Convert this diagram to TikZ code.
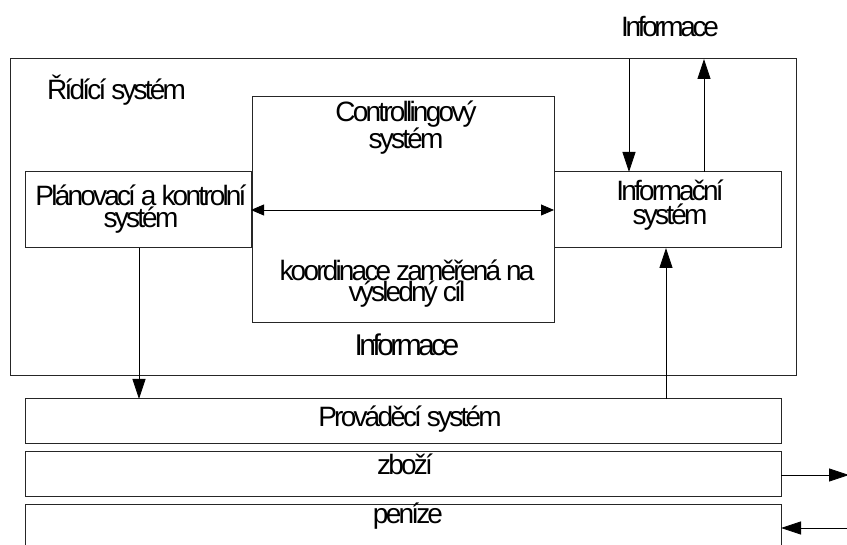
\documentclass[tikz,border=0pt]{standalone}
\usepackage{fontspec}
\setmainfont{Liberation Sans}[LetterSpace=-10]
\usetikzlibrary{arrows.meta}
\begin{document}
\begin{tikzpicture}[x=1pt,y=-1pt,
  box/.style={draw=black!85, line width=1pt, inner sep=0pt, outer sep=0pt, anchor=north west},
  lbl/.style={font=\fontsize{28}{22}\selectfont, inner sep=0pt, align=center, anchor=base},
  big/.style={-{Triangle[length=20pt,width=13pt]}, line width=0.8pt},
  twoway/.style={{Triangle[length=13pt,width=11pt]}-{Triangle[length=13pt,width=11pt]}, line width=0.8pt}]
\useasboundingbox (0,0) rectangle (847,545);
\fill[white] (0,0) rectangle (847,545);
% boxes
\node[box, minimum width=786pt, minimum height=317pt] (rs) at (10,59) {};
\node[box, minimum width=226pt, minimum height=76pt] (pk) at (25,172) {};
\node[box, minimum width=302pt, minimum height=226pt] (cs) at (252,97) {};
\node[box, minimum width=227pt, minimum height=76pt] (is) at (554,172) {};
\node[box, minimum width=756pt, minimum height=45pt] (ps) at (25,399) {};
\node[box, minimum width=756pt, minimum height=45pt] (zb) at (25,452) {};
\node[box, minimum width=756pt, minimum height=45pt] (pe) at (25,505) {};
% labels (anchor = baseline of the last line)
\node[lbl, anchor=base west] (t1) at (47,100) {Řídící systém};
\node[lbl, font=\fontsize{28}{23}\selectfont] (t2) at (406,149) {Controllingový\\systém};
\node[lbl, font=\fontsize{28}{20}\selectfont] (t3) at (407,302) {koordinace zaměřená na\\výsledný cíl};
\node[lbl, font=\fontsize{30}{24}\selectfont\addfontfeatures{LetterSpace=-12}] (t4) at (407,356) {Informace};
\node[lbl] (t5) at (141,228) {Plánovací a kontrolní\\systém};
\node[lbl, font=\fontsize{28}{24}\selectfont] (t6) at (670,225) {Informační\\systém};
\node[lbl, font=\fontsize{28}{24}\selectfont\addfontfeatures{LetterSpace=-12}] (t7) at (670,37) {Informace};
\node[lbl] (t8) at (410,427) {Prováděcí systém};
\node[lbl] (t9) at (405,475) {zboží};
\node[lbl] (t10) at (408,524) {peníze};
% connectors
\coordinate (xa) at (139,0);
\coordinate (xb) at (666,0);
\coordinate (xc) at (629,0);
\coordinate (xd) at (704,0);
\coordinate (outR) at (849,475);
\coordinate (inR) at (849,528);
\draw[big] (xa |- pk.south) -- (xa |- ps.north);
\draw[big] (xb |- ps.north) -- (xb |- is.south);
\draw[big] (xc |- rs.north) -- (xc |- is.north);
\draw[big] (xd |- is.north) -- (xd |- rs.north);
\draw[twoway] (pk.east) -- (is.west);
\draw[big] (zb.east |- outR) -- (outR);
\draw[big] (inR) -- (pe.east |- inR);
\end{tikzpicture}
\end{document}
